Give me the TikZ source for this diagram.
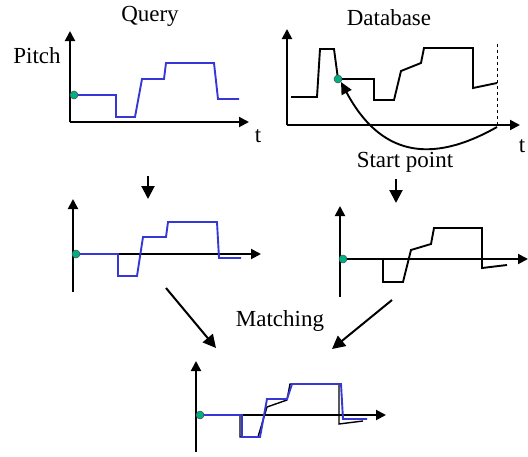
\documentclass[tikz,border=0pt]{standalone}
\usepackage{fontspec}
\setmainfont{Liberation Serif}
\usetikzlibrary{arrows.meta}
\definecolor{plotblue}{RGB}{55,55,215}
\definecolor{dotgreen}{RGB}{0,175,130}
\tikzset{
  axis/.style={line width=2pt,-{Triangle[length=10pt,width=10pt]}},
  bigarrow/.style={line width=2pt,-{Triangle[length=13pt,width=13pt]}},
  qline/.style={line width=1.9pt,plotblue,line join=miter},
  dline/.style={line width=1.9pt,black,line join=miter},
  startdot/.style={circle,fill=dotgreen,draw=black!70,line width=0.5pt,inner sep=0pt,minimum size=8pt},
  lbl/.style={font=\fontsize{23}{27}\selectfont,inner sep=0pt}
}
\begin{document}
\begin{tikzpicture}[x=1pt,y=-1pt]
\useasboundingbox (0,0) rectangle (528,456);
% ---------- labels ----------
\node[lbl] (query) at (150,16) {Query};
\node[lbl] (database) at (389,18) {Database};
\node[lbl] (pitch) at (37,56) {Pitch};
\node[lbl] (t1) at (258,136) {t};
\node[lbl] (t2) at (522,146) {t};
\node[lbl] (startpt) at (405,162) {Start point};
\node[lbl] (matching) at (280,321) {Matching};
% ---------- Query panel ----------
\coordinate (qo) at (70,122);
\coordinate (qy) at (70,31);
\coordinate (qx) at (249,122);
\draw[axis] (qo) -- (qy);
\draw[axis] (qo) -- (qx);
\draw[qline] (74,95) -- (116,95) -- (116,117) -- (135,117) -- (142,79) -- (164,79) -- (166,63) -- (214,63) -- (218,99) -- (239,99);
\node[startdot] (qdot) at (74,95) {};
% ---------- Database panel ----------
\coordinate (do) at (287,125);
\coordinate (dy) at (287,29);
\coordinate (dx) at (520,125);
\draw[axis] (do) -- (dy);
\draw[axis] (do) -- (dx);
\coordinate (dend) at (497,125);
\coordinate (dtop) at (497,43);
\draw[dashed,line width=0.6pt] (dend) -- (dtop);
\draw[dline] (291,97) -- (317,97) -- (320,49) -- (334,49) -- (338,79) -- (374,79) -- (374,100) -- (394,100) -- (401,71) -- (421,63) -- (424,48) -- (473,48) -- (473,88) -- (497,83);
\node[startdot] (ddot) at (338,79) {};
\coordinate (cstart) at (497,127);
\draw[line width=1.9pt,-{Triangle[length=12pt,width=11pt]}] (cstart) .. controls (430,165) and (380,155) .. (ddot.south east);
% ---------- down arrows ----------
\coordinate (qa1) at (148,176);
\coordinate (qa2) at (148,199);
\draw[bigarrow] (qa1) -- (qa2);
\coordinate (da1) at (396,179);
\coordinate (da2) at (396,203);
\draw[bigarrow] (da1) -- (da2);
% ---------- middle-left panel ----------
\coordinate (mlo) at (73,292);
\coordinate (mly) at (73,199);
\coordinate (mla) at (73,254);
\coordinate (mlx) at (261,254);
\draw[axis] (mlo) -- (mly);
\draw[axis] (mla) -- (mlx);
\draw[qline] (76,254) -- (118,254) -- (118,276) -- (137,276) -- (143,237) -- (166,237) -- (168,222) -- (217,222) -- (219,258) -- (241,258);
\node[startdot] (mldot) at (76,254) {};
% ---------- middle-right panel ----------
\coordinate (mro) at (340,297);
\coordinate (mry) at (340,206);
\coordinate (mra) at (340,259);
\coordinate (mrx) at (528,259);
\draw[axis] (mro) -- (mry);
\draw[axis] (mra) -- (mrx);
\draw[dline] (383,259) -- (383,282) -- (403,282) -- (411,250) -- (431,244) -- (434,228) -- (482,228) -- (482,268) -- (507,265);
\node[startdot] (mrdot) at (343,259) {};
% ---------- diagonal arrows ----------
\coordinate (la1) at (166,288);
\coordinate (la2) at (216,348);
\draw[bigarrow] (la1) -- (la2);
\coordinate (ra1) at (392,300);
\coordinate (ra2) at (332,349);
\draw[bigarrow] (ra1) -- (ra2);
% ---------- bottom panel ----------
\coordinate (bo) at (196,452);
\coordinate (by) at (196,361);
\coordinate (ba) at (196,415);
\coordinate (bx) at (386,415);
\draw[axis] (bo) -- (by);
\draw[axis] (ba) -- (bx);
\draw[line width=1.4pt] (240,415) -- (240,437) -- (258,437) -- (267,407) -- (287,400) -- (290,384) -- (339,384) -- (339,424) -- (363,421);
\draw[qline] (200,415) -- (242,415) -- (242,437) -- (260,437) -- (267,399) -- (287,399) -- (292,384) -- (341,384) -- (343,419) -- (367,419);
\node[startdot] (bdot) at (200,415) {};
\end{tikzpicture}
\end{document}
